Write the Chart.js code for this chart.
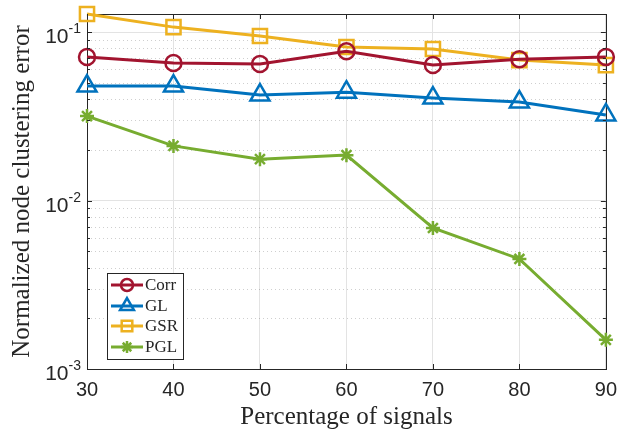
<!DOCTYPE html>
<html>
<head>
<meta charset="utf-8">
<script src="https://cdn.jsdelivr.net/npm/chart.js@4.4.1/dist/chart.umd.min.js"></script>
<style>
  html, body { margin: 0; padding: 0; background: #fff; }
  #wrap { width: 626px; height: 429px; }
</style>
</head>
<body>
<div id="wrap"><canvas id="chart" width="626" height="429"></canvas></div>
<script>
// x positions (percentage of signals)
const percentages = [30, 40, 50, 60, 70, 80, 90];

// normalized node clustering error
const corrErr = [0.0711, 0.0655, 0.0646, 0.0770, 0.0637, 0.0690, 0.0711];
const glErr   = [0.0478, 0.0478, 0.0423, 0.0440, 0.0406, 0.0384, 0.0322];
const gsrErr  = [0.128, 0.107, 0.0947, 0.0815, 0.0793, 0.0682, 0.0637];
const pglErr  = [0.0317, 0.0211, 0.0176, 0.0186, 0.00687, 0.0045, 0.00149];

const seriesNames = ['Corr', 'GL', 'GSR', 'PGL'];
const seriesColors = ['#A2142F', '#0072BD', '#EDB120', '#77AC30'];
const seriesMarkers = ['circle', 'triangle', 'rect', 'star'];

const xTicks = [30, 40, 50, 60, 70, 80, 90];
const yDecades = [-3, -2, -1];
const yMin = 1e-3, yMax = 0.128;

const serif = '"Liberation Serif", "Times New Roman", serif';
const sans = '"Liberation Sans", Arial, Helvetica, sans-serif';
const axisColor = '#262626';

function toPoints(vals) {
    return percentages.map((x, i) => ({ x: x, y: vals[i] }));
}

const allSeries = [corrErr, glErr, gsrErr, pglErr];
const markerRadius = [8, 11, 10, 7];

const datasets = allSeries.map((vals, i) => ({
    label: seriesNames[i],
    data: toPoints(vals),
    borderColor: seriesColors[i],
    backgroundColor: 'rgba(0,0,0,0)',
    borderWidth: 3,
    pointStyle: seriesMarkers[i],
    pointRadius: markerRadius[i],
    pointBorderWidth: 2.5,
    pointBorderColor: seriesColors[i],
    pointBackgroundColor: 'rgba(0,0,0,0)',
    tension: 0,
    clip: false
}));

// all y grid values: 1..9 x 10^e
function yGridValues() {
    const out = [];
    yDecades.forEach(e => {
        for (let m = 1; m <= 9; m++) {
            const v = m * Math.pow(10, e);
            if (v >= yMin && v <= yMax) out.push({ value: v, major: m === 1 });
        }
    });
    return out;
}

// box, minor grid, inward ticks, y labels with superscripts, legend
const matlabAxes = {
    id: 'matlabAxes',
    beforeDatasetsDraw(chart) {
        const { ctx, chartArea: a, scales: { y } } = chart;
        ctx.save();
        ctx.strokeStyle = 'rgba(38,38,38,0.22)';
        ctx.lineWidth = 1;
        ctx.setLineDash([1, 3]);
        yGridValues().filter(t => !t.major).forEach(t => {
            const py = Math.round(y.getPixelForValue(t.value)) + 0.5;
            ctx.beginPath();
            ctx.moveTo(a.left, py);
            ctx.lineTo(a.right, py);
            ctx.stroke();
        });
        ctx.setLineDash([]);
        ctx.strokeStyle = axisColor;
        ctx.strokeRect(Math.round(a.left) + 0.5, Math.round(a.top) + 0.5,
            Math.round(a.right - a.left), Math.round(a.bottom - a.top));
        ctx.restore();
    },
    afterDraw(chart) {
        const { ctx, chartArea: a, scales: { x, y } } = chart;
        ctx.save();
        ctx.strokeStyle = axisColor;
        ctx.lineWidth = 1;
        ctx.setLineDash([]);

        // inward ticks
        ctx.beginPath();
        xTicks.forEach(v => {
            const px = Math.round(x.getPixelForValue(v)) + 0.5;
            ctx.moveTo(px, a.bottom); ctx.lineTo(px, a.bottom - 5);
            ctx.moveTo(px, a.top); ctx.lineTo(px, a.top + 5);
        });
        yGridValues().forEach(t => {
            const py = Math.round(y.getPixelForValue(t.value)) + 0.5;
            const len = t.major ? 5 : 3;
            ctx.moveTo(a.left, py); ctx.lineTo(a.left + len, py);
            ctx.moveTo(a.right, py); ctx.lineTo(a.right - len, py);
        });
        ctx.stroke();

        // y tick labels 10^e
        ctx.fillStyle = axisColor;
        ctx.textBaseline = 'alphabetic';
        yDecades.forEach(e => {
            const py = y.getPixelForValue(Math.pow(10, e));
            const expText = '-' + Math.abs(e);
            ctx.font = '14px ' + sans;
            const ew = ctx.measureText(expText).width;
            const expRight = a.left - 6;
            ctx.textAlign = 'right';
            ctx.fillText(expText, expRight, py + 1);
            ctx.font = '21px ' + sans;
            ctx.fillText('10', expRight - ew, py + 11);
        });

        // legend
        const lx = 107, ly = 273, lw = 76, lh = 86;
        ctx.fillStyle = '#fff';
        ctx.fillRect(lx, ly, lw, lh);
        ctx.strokeStyle = axisColor;
        ctx.lineWidth = 1;
        ctx.strokeRect(lx + 0.5, ly + 0.5, lw, lh);
        const rowY = [285, 306, 326, 347];
        const legendRadius = [6, 8, 7.5, 6];
        seriesNames.forEach((name, i) => {
            const cy = rowY[i];
            ctx.strokeStyle = seriesColors[i];
            ctx.lineWidth = 3;
            ctx.beginPath();
            ctx.moveTo(lx + 4, cy);
            ctx.lineTo(lx + 36, cy);
            ctx.stroke();
            ctx.lineWidth = 2.5;
            ctx.fillStyle = 'rgba(0,0,0,0)';
            Chart.helpers.drawPoint(ctx, {
                pointStyle: seriesMarkers[i],
                radius: legendRadius[i],
                rotation: 0,
                borderWidth: 2.5
            }, lx + 20, cy);
            ctx.fillStyle = axisColor;
            ctx.font = '17px ' + serif;
            ctx.textAlign = 'left';
            ctx.textBaseline = 'middle';
            ctx.fillText(name, lx + 38, cy + 1);
        });
        ctx.restore();
    }
};

new Chart(document.getElementById('chart'), {
    type: 'line',
    data: { datasets: datasets },
    options: {
        responsive: false,
        animation: false,
        layout: { padding: { top: 14, right: 15, left: 0, bottom: 0 } },
        plugins: {
            legend: { display: false },
            tooltip: { enabled: false }
        },
        scales: {
            x: {
                type: 'linear',
                min: 30,
                max: 90,
                afterBuildTicks: s => { s.ticks = xTicks.map(v => ({ value: v })); },
                afterFit: s => { s.height = 60; },
                grid: { color: '#e3e3e3', drawTicks: false },
                border: { display: false },
                ticks: {
                    color: axisColor,
                    font: { family: sans, size: 20 },
                    padding: 9,
                    maxRotation: 0
                },
                title: {
                    display: true,
                    text: 'Percentage of signals',
                    color: axisColor,
                    font: { family: serif, size: 25, lineHeight: 1 },
                    padding: { top: 0, bottom: -1 }
                }
            },
            y: {
                type: 'logarithmic',
                min: yMin,
                max: yMax,
                afterBuildTicks: s => { s.ticks = yGridValues(); },
                afterFit: s => { s.width = 87; },
                grid: {
                    color: c => (c.tick && c.tick.major ? '#e3e3e3' : 'rgba(0,0,0,0)'),
                    drawTicks: false
                },
                border: { display: false },
                ticks: { callback: () => '' },
                title: {
                    display: true,
                    text: 'Normalized node clustering error',
                    color: axisColor,
                    font: { family: serif, size: 25, lineHeight: 1 },
                    padding: { top: 10, bottom: 0 }
                }
            }
        }
    },
    plugins: [matlabAxes]
});
</script>
</body>
</html>
